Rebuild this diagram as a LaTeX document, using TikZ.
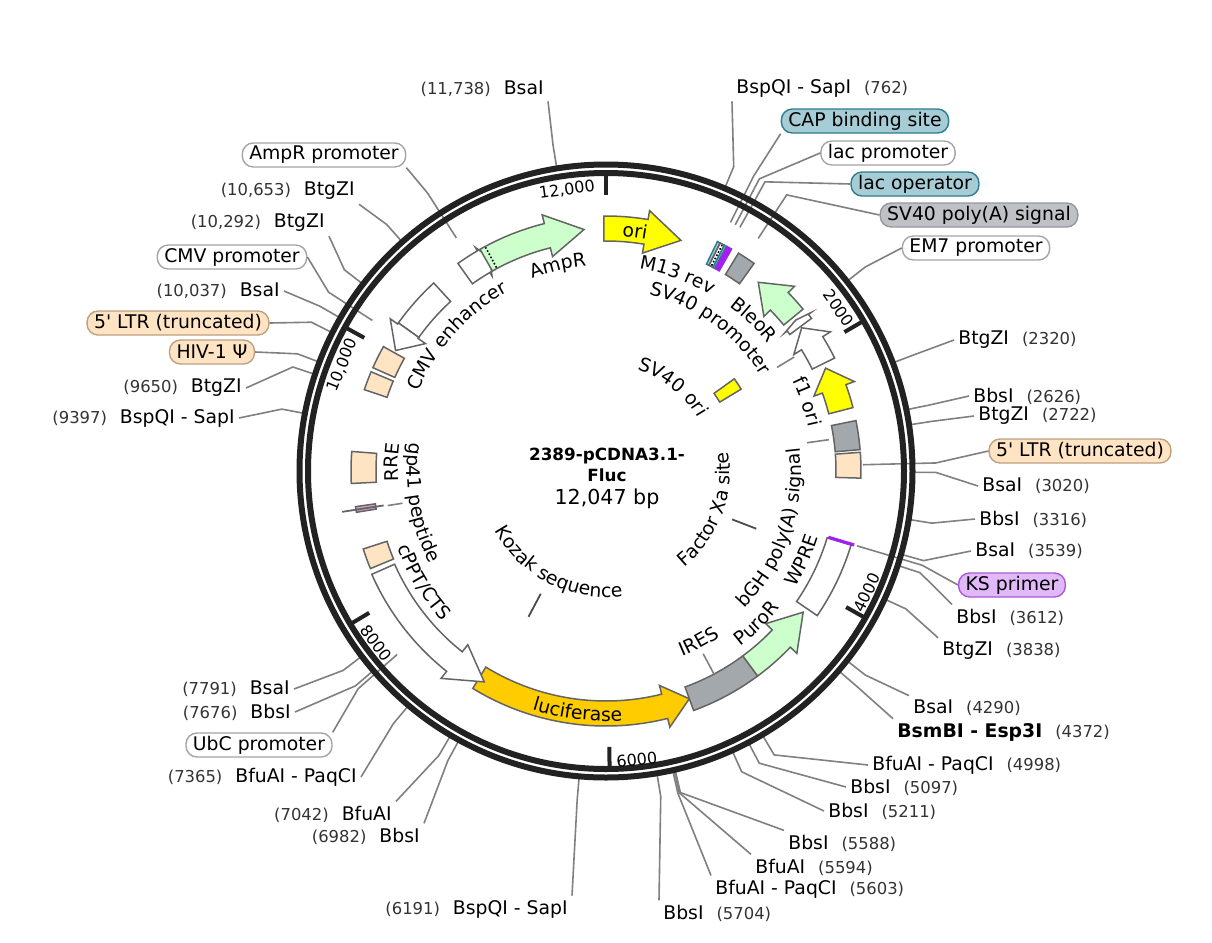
\documentclass[tikz,border=0pt]{standalone}
\usepackage{fontspec}
\setmainfont{DejaVu Sans}
\usetikzlibrary{decorations.text}

\definecolor{ringblack}{RGB}{34,34,34}
\definecolor{leadgray}{RGB}{128,128,128}
\definecolor{edgegray}{RGB}{100,100,100}
\definecolor{tagline}{RGB}{165,165,165}
\definecolor{orifill}{RGB}{255,255,0}
\definecolor{resfill}{RGB}{204,255,204}
\definecolor{lucfill}{RGB}{255,204,0}
\definecolor{greyfill}{RGB}{163,168,173}
\definecolor{ltrfill}{RGB}{255,228,196}
\definecolor{ltrline}{RGB}{190,160,130}
\definecolor{gpfill}{RGB}{216,160,200}
\definecolor{capfill}{RGB}{166,204,213}
\definecolor{capline}{RGB}{45,125,145}
\definecolor{polytag}{RGB}{190,193,197}
\definecolor{polyline}{RGB}{150,152,156}
\definecolor{kstag}{RGB}{225,185,250}
\definecolor{ksline}{RGB}{170,90,210}
\definecolor{primer}{RGB}{160,32,240}

\newcommand{\ff}{\fontsize{9.4}{11}\selectfont}
\newcommand{\nf}{\fontsize{8.2}{10}\selectfont\color{black!80}}
\newcommand{\tf}{\fontsize{8}{10}\selectfont}

% block between two angles (clockwise from top) and two radii
\newcommand{\featblock}[5]{%
  \draw[#5] ({#1-90}:#4) arc[start angle={#1-90}, end angle={#2-90}, radius=#4]
    -- ({#2-90}:#3) arc[start angle={#2-90}, end angle={#1-90}, radius=#3] -- cycle;}
% arrow: tail, head start, tip, inner r, outer r, barb, style
\newcommand{\featarrow}[7]{%
  \draw[#7] ({#1-90}:#5) arc[start angle={#1-90}, end angle={#2-90}, radius=#5]
    -- ({#2-90}:{#5+#6}) -- ({#3-90}:{(#4+#5)/2}) -- ({#2-90}:{#4-#6})
    -- ({#2-90}:#4) arc[start angle={#2-90}, end angle={#1-90}, radius=#4] -- cycle;}
% curved text, upper half and lower half
\newcommand{\arctop}[3]{%
  \path[decorate, decoration={text along path, text align=center, text={|\ff|#3}}]
    ({#1-150}:{#2-6}) arc[start angle={#1-150}, end angle={#1-30}, radius={#2-6}];}
\newcommand{\arcbot}[3]{%
  \path[decorate, decoration={text along path, text align=center, text={|\ff|#3}}]
    ({#1-30}:{#2+6}) arc[start angle={#1-30}, end angle={#1-150}, radius={#2+6}];}

\begin{document}
\begin{tikzpicture}[x=0.5pt, y=-0.5pt,
    ring/.style={draw=ringblack, line width=3pt},
    tick mark/.style={draw=ringblack, line width=2pt},
    tick label/.style={font=\tf, inner sep=0pt},
    leader/.style={draw=leadgray, line width=0.8pt},
    feat/.style={draw=edgegray, line width=0.75pt, line join=miter},
    site mark/.style={draw=black!70, line width=0.9pt},
    site label/.style={font=\ff, inner sep=2pt},
    tag/.style={font=\ff, draw=tagline, fill=white, rounded corners=5.5pt,
      line width=0.7pt, inner xsep=3.5pt, inner ysep=0pt, minimum height=12pt},
    tag ltr/.style={tag, draw=ltrline, fill=ltrfill},
    tag cap/.style={tag, draw=capline, fill=capfill},
    tag poly/.style={tag, draw=polyline, fill=polytag},
    tag ks/.style={tag, draw=ksline, fill=kstag}]

  \fill[white] (0,0) rectangle (1212,943);
  \useasboundingbox (0,0) rectangle (1212,943);
  \coordinate (ctr) at (606,471);

  % Title
  \node[font=\bfseries\fontsize{8.4}{10.5}\selectfont, align=center] (title) at (607,465) {2389-pCDNA3.1-\\Fluc};
  \node[font=\fontsize{10.3}{12}\selectfont] (size) at (607,499) {12,047 bp};

  % Site labels, left side
  \node[site label, anchor=east] (bsaA) at (548,89) {{\nf(11,738)}\hspace{6.5pt}BsaI};
  \node[site label, anchor=east] (btgA) at (359,191) {{\nf(10,653)}\hspace{6.5pt}BtgZI};
  \node[site label, anchor=east] (btgB) at (329,223) {{\nf(10,292)}\hspace{6.5pt}BtgZI};
  \node[site label, anchor=east] (bsaB) at (284,291) {{\nf(10,037)}\hspace{6.5pt}BsaI};
  \node[site label, anchor=east] (btgC) at (246,388) {{\nf(9650)}\hspace{6.5pt}BtgZI};
  \node[site label, anchor=east] (sapB) at (239,418) {{\nf(9397)}\hspace{6.5pt}BspQI - SapI};
  \node[site label, anchor=east] (bsaC) at (294,689) {{\nf(7791)}\hspace{6.5pt}BsaI};
  \node[site label, anchor=east] (bbsA) at (295,712) {{\nf(7676)}\hspace{6.5pt}BbsI};
  \node[site label, anchor=east] (bfuA) at (361,777) {{\nf(7365)}\hspace{6.5pt}BfuAI - PaqCI};
  \node[site label, anchor=east] (bfuB) at (396,814) {{\nf(7042)}\hspace{6.5pt}BfuAI};
  \node[site label, anchor=east] (bbsB) at (424,836) {{\nf(6982)}\hspace{6.5pt}BbsI};
  \node[site label, anchor=east] (sapC) at (572,909) {{\nf(6191)}\hspace{6.5pt}BspQI - SapI};

  % Site labels, right side
  \node[site label, anchor=west] (sapA) at (732,88) {BspQI - SapI\hspace{6.5pt}{\nf(762)}};
  \node[site label, anchor=west] (btgF) at (954,340) {BtgZI\hspace{6.5pt}{\nf(2320)}};
  \node[site label, anchor=west] (bbsI) at (969,396) {BbsI\hspace{6.5pt}{\nf(2626)}};
  \node[site label, anchor=west] (btgE) at (974,416) {BtgZI\hspace{6.5pt}{\nf(2722)}};
  \node[site label, anchor=west] (bsaF) at (978,486) {BsaI\hspace{6.5pt}{\nf(3020)}};
  \node[site label, anchor=west] (bbsH) at (975,519) {BbsI\hspace{6.5pt}{\nf(3316)}};
  \node[site label, anchor=west] (bsaE) at (971,551) {BsaI\hspace{6.5pt}{\nf(3539)}};
  \node[site label, anchor=west] (bbsG) at (952,617) {BbsI\hspace{6.5pt}{\nf(3612)}};
  \node[site label, anchor=west] (btgD) at (938,651) {BtgZI\hspace{6.5pt}{\nf(3838)}};
  \node[site label, anchor=west] (bsaD) at (909,708) {BsaI\hspace{6.5pt}{\nf(4290)}};
  \node[site label, anchor=west] (bsmA) at (893,732) {\textbf{BsmBI - Esp3I}\hspace{6.5pt}{\nf(4372)}};
  \node[site label, anchor=west] (bfuE) at (868,765) {BfuAI - PaqCI\hspace{6.5pt}{\nf(4998)}};
  \node[site label, anchor=west] (bbsF) at (846,787) {BbsI\hspace{6.5pt}{\nf(5097)}};
  \node[site label, anchor=west] (bbsE) at (824,811) {BbsI\hspace{6.5pt}{\nf(5211)}};
  \node[site label, anchor=west] (bbsD) at (784,843) {BbsI\hspace{6.5pt}{\nf(5588)}};
  \node[site label, anchor=west] (bfuD) at (751,867) {BfuAI\hspace{6.5pt}{\nf(5594)}};
  \node[site label, anchor=west] (bfuC) at (711,889) {BfuAI - PaqCI\hspace{6.5pt}{\nf(5603)}};
  \node[site label, anchor=west] (bbsC) at (659,913) {BbsI\hspace{6.5pt}{\nf(5704)}};

  % Feature tags
  \node[tag] (ampprom) at (324,155) {AmpR promoter};
  \node[tag] (cmvprom) at (232,257) {CMV promoter};
  \node[tag ltr] (ltrL) at (178,323) {5\textquotesingle{} LTR (truncated)};
  \node[tag ltr] (psi) at (212,352) {HIV-1 Ψ};
  \node[tag] (ubcprom) at (259,745) {UbC promoter};
  \node[tag cap] (cap) at (865,121) {CAP binding site};
  \node[tag] (lacprom) at (888,153) {lac promoter};
  \node[tag cap] (lacop) at (915,184) {lac operator};
  \node[tag poly] (sv40pa) at (979,215) {SV40 poly(A) signal};
  \node[tag] (em7) at (976,248) {EM7 promoter};
  \node[tag ltr] (ltrR) at (1080,451) {5\textquotesingle{} LTR (truncated)};
  \node[tag ks] (ks) at (1012,585) {KS primer};

  \begin{scope}[shift={(ctr)}]
    % Leader lines: label, anchor, angle, end radius
    \foreach \lbl/\side/\ang/\rend in {
        bsaA/south east/350.77/306, btgA/south east/318.34/306,
        btgB/south east/307.56/306, bsaB/east/299.94/306,
        btgC/east/288.37/306, sapB/east/280.81/306,
        bsaC/east/232.82/306, bbsA/east/229.38/306,
        bfuA/east/220.09/306, bfuB/north east/210.44/306,
        bbsB/north east/208.64/306, sapC/north east/185.01/306,
        sapA/south west/22.77/306, btgF/west/69.33/306,
        bbsI/west/78.47/306, btgE/west/81.34/306,
        bsaF/west/90.25/306, bbsH/west/99.09/306,
        bsaE/west/105.76/306, bbsG/north west/107.94/306,
        btgD/north west/114.69/306, bsaD/north west/128.20/306,
        bsmA/north west/130.65/306, bfuE/west/149.36/306,
        bbsF/west/152.32/306, bbsE/west/155.72/306,
        bbsD/north west/166.98/306, bfuD/north west/167.17/306,
        bfuC/north west/167.43/306, bbsC/north west/170.45/306,
        ampprom/south east/-32.7/277, cmvprom/east/-57.2/278,
        ltrL/east/-63.2/306, psi/east/-69.2/306,
        ubcprom/north east/228.7/278, cap/south west/26.6/278,
        lacprom/west/27.7/278, lacop/west/28.8/278,
        sv40pa/west/33.2/278, em7/west/51.8/306,
        ltrR/west/88.6/257, ks/west/106.6/262} {
      \coordinate (\lbl-k) at ({\ang-90}:330);
      \coordinate (\lbl-e) at ({\ang-90}:\rend);
      \draw[leader] (\lbl.\side) -- (\lbl-k) -- (\lbl-e);
    }

    % Backbone ring and ticks
    \draw[ring] (0,0) circle[radius=306.5];
    \draw[ring] (0,0) circle[radius=298];
    \foreach \a in {0, 59.77, 119.54, 179.31, 239.08, 298.85}
      \draw[tick mark] ({\a-90}:298) -- ({\a-90}:276);
    \node[tick label, rotate=7.9] (k12) at ({-7.9-90}:284) {12,000};
    \node[tick label, rotate=-55] (k2) at ({55-90}:284) {2000};
    \node[tick label, rotate=65] (k4) at ({115-90}:288) {4000};
    \node[tick label, rotate=6.1] (k6) at ({173.9-90}:290) {6000};
    \node[tick label, rotate=-53.2] (k8) at ({233.2-90}:287) {8000};
    \node[tick label, rotate=68.1] (k10) at ({-68.1-90}:284) {10,000};

    % Features, outer track
    \featarrow{-0.5}{9.5}{18}{230}{255}{9}{feat, fill=orifill}
    \featarrow{-35.5}{-30.3}{-28.6}{230}{255}{4}{feat, fill=white}
    \featarrow{-29.6}{-14}{-5.2}{230}{255}{9}{feat, fill=resfill}
    \draw[densely dotted, line width=0.8pt] ({-28.3-90}:231) -- ({-28.3-90}:254);
    \featblock{-42.5}{-54.5}{230}{255}{feat, fill=white}
    \featarrow{-54.5}{-54.8}{-60.2}{230}{255}{9}{feat, fill=white}
    \featblock{-60.8}{-66.1}{231}{255}{feat, fill=ltrfill}
    \featblock{-67.1}{-71.4}{231}{255}{feat, fill=ltrfill}
    \featblock{-85.6}{-92.8}{230}{255}{feat, fill=ltrfill}
    \featblock{-98.1}{-99.4}{233}{253}{feat, fill=gpfill}
    \draw[edgegray, line width=0.9pt] ({-98.8-90}:225) -- ({-98.8-90}:267);
    \featblock{-107.8}{-112.5}{230}{255}{feat, fill=ltrfill}
    \featarrow{211.5}{166}{159.9}{230}{255}{9}{feat, fill=lucfill}
    \featarrow{-113.8}{-141.5}{-150}{231}{256}{9}{feat, fill=white}
    \featblock{143.5}{159.9}{230}{255}{feat, fill=greyfill}
    \featarrow{143.5}{133.7}{125.6}{230}{255}{9}{feat, fill=resfill}
    \featblock{106.8}{124.4}{231}{256}{feat, fill=white}
    \draw[primer, line width=1.6pt] ({106.6-90}:232) -- ({106.6-90}:259);
    \featblock{85.8}{91.6}{230}{255}{feat, fill=ltrfill}
    \featblock{78.6}{85.2}{230}{255}{feat, fill=greyfill}
    \featarrow{75.6}{70.2}{64.9}{230}{255}{9}{feat, fill=orifill}
    \featarrow{63.7}{58.2}{53.8}{230}{255}{9}{feat, fill=white}
    \featarrow{53.4}{52.3}{51.5}{229}{256}{3}{feat, fill=white}
    \featarrow{50.6}{45.6}{38.9}{230}{255}{9}{feat, fill=resfill}
    \featblock{31.3}{35.5}{230}{255}{feat, fill=greyfill}
    \featblock{25.9}{26.6}{230}{255}{feat, fill=capfill, draw=capline}
    \featblock{26.6}{27.7}{230}{255}{feat, fill=white}
    \draw[densely dotted, line width=0.8pt] ({27.2-90}:231) -- ({27.2-90}:254);
    \featblock{27.7}{28.2}{230}{255}{feat, fill=capfill, draw=capline}
    \featblock{28.4}{29.5}{230}{255}{feat, fill=primer, draw=primer}

    % Features, inner track
    \featblock{54.3}{58.8}{133}{158}{feat, fill=orifill}
    \draw[site mark] ({111-90}:135) -- ({111-90}:161);
    \draw[site mark] ({208-90}:139) -- ({208-90}:165);

    % Short pointers from inner labels
    \draw[leader] ({58.8-90}:200) -- ({58.8-90}:220);
    \draw[leader] ({-99-90}:206) -- ({-99-90}:221);
    \draw[leader] ({82-90}:203) -- ({82-90}:225);
    \draw[leader] ({152-90}:207) -- ({152-90}:230);

    % Inner labels
    \arctop{6.9}{241}{ori}
    \arctop{-13.2}{212}{AmpR}
    \arctop{-47.8}{210}{CMV enhancer}
    \arctop{20}{211}{M13 rev}
    \arctop{36}{188}{SV40 promoter}
    \arctop{44.4}{212}{BleoR}
    \arctop{38.5}{112}{SV40 ori}
    \arctop{71}{213}{f1 ori}
    \arctop{-87.6}{214}{RRE}
    \arcbot{108.9}{189}{bGH poly(A) signal}
    \arcbot{114.5}{216}{WPRE}
    \arcbot{135.4}{215}{PuroR}
    \arcbot{151.5}{195}{IRES}
    \arcbot{111}{118}{Factor Xa site}
    \arcbot{207}{120}{Kozak sequence}
    \arcbot{186.7}{244}{luciferase}
    \arcbot{238.7}{216}{cPPT/CTS}
    \arcbot{260.3}{193}{gp41 peptide}
  \end{scope}
\end{tikzpicture}
\end{document}
